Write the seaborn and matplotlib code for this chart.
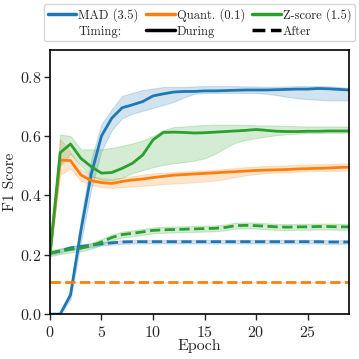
import matplotlib
matplotlib.use("Agg")
import matplotlib.pyplot as plt
from matplotlib.lines import Line2D
import numpy as np
import pandas as pd
import seaborn as sns

epochs = list(range(30))

mad_during = [0.0, 0.0, 0.065, 0.28, 0.47, 0.60, 0.66, 0.695, 0.705, 0.716, 0.735, 0.742, 0.748, 0.75, 0.75,
              0.752, 0.752, 0.753, 0.754, 0.755, 0.755, 0.755, 0.756, 0.757, 0.758, 0.758, 0.76, 0.759, 0.757, 0.755]
mad_during_lo = [0.0, 0.0, 0.05, 0.24, 0.42, 0.55, 0.62, 0.66, 0.675, 0.685, 0.695, 0.705, 0.715, 0.73, 0.742,
                 0.745, 0.745, 0.745, 0.745, 0.745, 0.745, 0.742, 0.738, 0.732, 0.727, 0.724, 0.722, 0.72, 0.72, 0.72]
mad_during_hi = [0.0, 0.0, 0.08, 0.32, 0.52, 0.64, 0.69, 0.735, 0.745, 0.755, 0.76, 0.765, 0.765, 0.765, 0.767,
                 0.768, 0.768, 0.768, 0.768, 0.767, 0.767, 0.766, 0.766, 0.767, 0.768, 0.768, 0.768, 0.767, 0.765, 0.762]

quant_during = [0.2, 0.519, 0.517, 0.469, 0.45, 0.443, 0.44, 0.447, 0.452, 0.455, 0.46, 0.464, 0.468, 0.47, 0.472,
                0.474, 0.476, 0.478, 0.48, 0.482, 0.484, 0.485, 0.486, 0.487, 0.489, 0.49, 0.491, 0.492, 0.494, 0.495]
quant_during_lo = [0.2, 0.47, 0.49, 0.45, 0.435, 0.428, 0.425, 0.428, 0.43, 0.432, 0.435, 0.438, 0.44, 0.442, 0.444,
                   0.447, 0.45, 0.455, 0.462, 0.468, 0.472, 0.475, 0.477, 0.478, 0.48, 0.481, 0.482, 0.482, 0.483, 0.484]
quant_during_hi = [0.2, 0.59, 0.545, 0.49, 0.465, 0.458, 0.455, 0.46, 0.465, 0.47, 0.474, 0.476, 0.478, 0.48, 0.482,
                   0.484, 0.486, 0.489, 0.492, 0.495, 0.497, 0.499, 0.5, 0.501, 0.503, 0.504, 0.505, 0.506, 0.507, 0.508]

z_during = [0.2, 0.544, 0.573, 0.525, 0.497, 0.475, 0.477, 0.491, 0.508, 0.536, 0.587, 0.612, 0.613, 0.612, 0.61,
            0.611, 0.613, 0.615, 0.617, 0.619, 0.622, 0.619, 0.616, 0.615, 0.615, 0.616, 0.616, 0.617, 0.617, 0.617]
z_during_lo = [0.18, 0.5, 0.54, 0.5, 0.465, 0.452, 0.45, 0.46, 0.475, 0.485, 0.495, 0.503, 0.508, 0.512, 0.517,
               0.525, 0.54, 0.56, 0.578, 0.587, 0.593, 0.598, 0.603, 0.606, 0.608, 0.61, 0.61, 0.611, 0.611, 0.611]
z_during_hi = [0.21, 0.605, 0.6, 0.555, 0.555, 0.555, 0.56, 0.567, 0.575, 0.585, 0.6, 0.62, 0.63, 0.632, 0.635,
               0.637, 0.638, 0.638, 0.638, 0.637, 0.636, 0.636, 0.635, 0.634, 0.633, 0.632, 0.632, 0.632, 0.632, 0.632]

mad_after = [0.205, 0.213, 0.223, 0.228, 0.232, 0.237, 0.24, 0.243, 0.244, 0.244, 0.244, 0.244, 0.244, 0.244, 0.244,
             0.244, 0.244, 0.244, 0.244, 0.244, 0.244, 0.244, 0.244, 0.244, 0.244, 0.244, 0.244, 0.243, 0.243, 0.243]
mad_after_lo = [v - 0.006 for v in mad_after]
mad_after_hi = [v + 0.006 for v in mad_after]

quant_after = [0.108] * 30
quant_after_lo = quant_after
quant_after_hi = quant_after

z_after = [0.205, 0.212, 0.218, 0.222, 0.23, 0.243, 0.258, 0.268, 0.272, 0.277, 0.282, 0.284, 0.285, 0.286, 0.287,
           0.288, 0.289, 0.292, 0.298, 0.299, 0.298, 0.296, 0.294, 0.293, 0.294, 0.294, 0.295, 0.295, 0.294, 0.294]
z_after_lo = [v - 0.01 for v in z_after]
z_after_hi = [v + 0.01 for v in z_after]

methods = ["MAD (3.5)", "Quant. (0.1)", "Z-score (1.5)"]
timings = ["During", "After"]
colors = ["#1f77b4", "#ff7f0e", "#2ca02c"]

series = {
    ("MAD (3.5)", "During"): (mad_during, mad_during_lo, mad_during_hi),
    ("Quant. (0.1)", "During"): (quant_during, quant_during_lo, quant_during_hi),
    ("Z-score (1.5)", "During"): (z_during, z_during_lo, z_during_hi),
    ("MAD (3.5)", "After"): (mad_after, mad_after_lo, mad_after_hi),
    ("Quant. (0.1)", "After"): (quant_after, quant_after_lo, quant_after_hi),
    ("Z-score (1.5)", "After"): (z_after, z_after_lo, z_after_hi),
}

rows = []
for (m, t), (mean, lo, hi) in series.items():
    for e, v in zip(epochs, mean):
        rows.append({"Epoch": e, "F1 Score": v, "method": m, "timing": t})
df = pd.DataFrame(rows)

sns.set_style("ticks")
plt.rcParams["font.family"] = "serif"
plt.rcParams["font.serif"] = ["cmr10", "DejaVu Serif"]
plt.rcParams["axes.formatter.use_mathtext"] = True
plt.rcParams["mathtext.fontset"] = "cm"

fig = plt.figure(figsize=(3.59, 3.59), dpi=100)
ax = fig.add_axes([0.139, 0.125, 0.833, 0.736])

palette = dict(zip(methods, colors))
for (m, t), (mean, lo, hi) in series.items():
    ax.fill_between(epochs, lo, hi, color=palette[m], alpha=0.2, linewidth=0.8)

sns.lineplot(data=df, x="Epoch", y="F1 Score", hue="method", style="timing",
             hue_order=methods, style_order=timings, palette=palette,
             dashes={"During": "", "After": (3.7, 1.6)}, linewidth=2, ax=ax, legend=False)

ax.set_xlim(0, 29)
ax.set_ylim(0, 0.89)
ax.set_xticks([0, 5, 10, 15, 20, 25])
ax.set_yticks([0.0, 0.2, 0.4, 0.6, 0.8])
ax.tick_params(labelsize=11.5, direction="out", length=4, width=1)
ax.tick_params(axis="x", pad=4)
ax.tick_params(axis="y", pad=2)
ax.set_xlabel("Epoch", fontsize=11.5, labelpad=-1)
ax.set_ylabel("F1 Score", fontsize=11, labelpad=2)
for s in ax.spines.values():
    s.set_linewidth(1.2)
    s.set_color("black")

handles = [
    Line2D([], [], color=colors[0], lw=2.5),
    Line2D([], [], color="none"),
    Line2D([], [], color=colors[1], lw=2.5),
    Line2D([], [], color="black", lw=2.5),
    Line2D([], [], color=colors[2], lw=2.5),
    Line2D([], [], color="black", lw=2.5, ls=(0, (3.7, 1.6))),
]
labels = ["MAD (3.5)", "Timing:", "Quant. (0.1)", "During", "Z-score (1.5)", "After"]
fig.legend(handles, labels, ncol=3, loc="upper center", bbox_to_anchor=(0.556, 0.995),
           fontsize=9, frameon=True, handlelength=2.3, handletextpad=0.15, columnspacing=0.6,
           borderpad=0.3, labelspacing=0.3, borderaxespad=0.2)

fig.savefig("out.png", dpi=100)
